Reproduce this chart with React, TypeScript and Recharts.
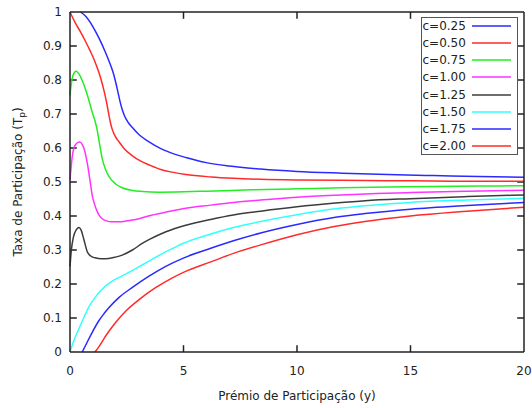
import { LineChart, Line, XAxis, YAxis, Legend, ReferenceLine } from 'recharts';

const FONT = '"DejaVu Sans", Verdana, sans-serif';
const INK = '#222';
const FRAME = '#222';

const X_TICKS = [0, 5, 10, 15, 20];
const Y_TICKS = [0, 0.1, 0.2, 0.3, 0.4, 0.5, 0.6, 0.7, 0.8, 0.9, 1];
const X_MAX = 20;
const Y_MAX = 1;
// inward tick length, in axis units (about 7px each way)
const TICK_DX = 0.3;
const TICK_DY = 0.02;

// [premio y, taxa Tp], one list per curve
const C025 = [
  [0.46, 1.0], [0.7, 0.987], [1.0, 0.958], [1.3, 0.92], [1.55, 0.883], [1.75, 0.85],
  [1.9, 0.822], [2.0, 0.797], [2.1, 0.768], [2.2, 0.738], [2.3, 0.713], [2.4, 0.695],
  [2.5, 0.682], [2.62, 0.67], [2.75, 0.66], [3.0, 0.642], [3.5, 0.617], [4.0, 0.598],
  [4.6, 0.582], [5.1, 0.572], [6.0, 0.557], [7.0, 0.547], [8.4, 0.538], [10, 0.531],
  [12, 0.526], [14, 0.522], [16, 0.519], [18, 0.516], [20, 0.514],
];
const C050 = [
  [0, 1.0], [0.24, 0.967], [0.45, 0.943], [0.68, 0.914], [0.9, 0.884], [1.05, 0.862],
  [1.2, 0.836], [1.35, 0.806], [1.5, 0.768], [1.6, 0.738], [1.69, 0.706], [1.79, 0.672],
  [1.85, 0.657], [1.95, 0.64], [2.05, 0.628], [2.15, 0.619], [2.4, 0.597], [2.75, 0.577],
  [3.1, 0.562], [3.5, 0.55], [4.0, 0.537], [4.5, 0.529], [5.1, 0.522], [6.2, 0.515],
  [7.2, 0.511], [8.4, 0.508], [10, 0.506], [12, 0.505], [14, 0.504], [16, 0.503],
  [18, 0.502], [20, 0.502],
];
const C075 = [
  [0, 0.755], [0.06, 0.79], [0.14, 0.815], [0.27, 0.826], [0.42, 0.815], [0.6, 0.788],
  [0.8, 0.748], [0.98, 0.705], [1.1, 0.68], [1.2, 0.652], [1.3, 0.613], [1.42, 0.569],
  [1.57, 0.536], [1.75, 0.513], [2.0, 0.495], [2.3, 0.483], [2.75, 0.475], [3.2, 0.472],
  [3.9, 0.47], [5, 0.471], [6, 0.473], [8, 0.477], [10, 0.48], [12, 0.483],
  [14, 0.485], [16, 0.487], [18, 0.488], [20, 0.489],
];
const C100 = [
  [0, 0.507], [0.1, 0.575], [0.24, 0.61], [0.42, 0.618], [0.61, 0.6], [0.76, 0.556],
  [0.88, 0.505], [0.98, 0.46], [1.08, 0.435], [1.2, 0.413], [1.35, 0.396], [1.55, 0.387],
  [1.8, 0.383], [2.15, 0.383], [2.6, 0.387], [3.04, 0.392], [3.5, 0.401], [4.2, 0.411],
  [5.1, 0.423], [6.2, 0.432], [7.2, 0.44], [8.4, 0.447], [10, 0.455], [11.7, 0.461],
  [13.5, 0.466], [15, 0.469], [17.5, 0.473], [20, 0.476],
];
const C125 = [
  [0, 0.252], [0.06, 0.3], [0.15, 0.338], [0.28, 0.36], [0.4, 0.366], [0.5, 0.357],
  [0.61, 0.331], [0.76, 0.295], [0.9, 0.283], [1.1, 0.277], [1.4, 0.274], [1.71, 0.275],
  [2.0, 0.279], [2.3, 0.285], [2.75, 0.3], [3.2, 0.32], [3.5, 0.331], [4.2, 0.353],
  [5.1, 0.373], [6.2, 0.39], [7.2, 0.403], [8.4, 0.414], [10, 0.427], [11.7, 0.438],
  [13, 0.445], [15, 0.451], [17.5, 0.457], [20, 0.462],
];
const C150 = [
  [0, 0], [0.15, 0.03], [0.35, 0.062], [0.6, 0.1], [0.85, 0.135], [1.1, 0.16],
  [1.35, 0.18], [1.6, 0.196], [1.9, 0.21], [2.3, 0.224], [2.75, 0.24], [3.1, 0.253],
  [3.5, 0.268], [4.0, 0.287], [4.5, 0.304], [5.0, 0.32], [6.2, 0.347], [7.2, 0.366],
  [8.4, 0.384], [10, 0.404], [11.7, 0.421], [13, 0.43], [15, 0.44], [17.5, 0.447],
  [20, 0.452],
];
const C175 = [
  [0.54, 0], [0.75, 0.028], [0.98, 0.058], [1.27, 0.092], [1.5, 0.113], [1.71, 0.13],
  [2.15, 0.16], [2.75, 0.19], [3.48, 0.223], [4.22, 0.252], [5.02, 0.277], [6.2, 0.305],
  [7.2, 0.327], [8.4, 0.35], [10, 0.375], [11.7, 0.396], [13, 0.407], [15, 0.42],
  [17.5, 0.431], [20, 0.44],
];
const C200 = [
  [1.1, 0], [1.3, 0.018], [1.57, 0.047], [2.0, 0.086], [2.45, 0.12], [3.04, 0.154],
  [3.77, 0.189], [4.51, 0.218], [5.02, 0.235], [6.2, 0.265], [7.2, 0.29], [8.4, 0.315],
  [10, 0.345], [11.7, 0.37], [13, 0.384], [15, 0.4], [17.5, 0.414], [20, 0.426],
];

const SERIES = [
  { name: 'c=0.25', color: '#2a2aff', points: C025 },
  { name: 'c=0.50', color: '#ff2a2a', points: C050 },
  { name: 'c=0.75', color: '#22ee22', points: C075 },
  { name: 'c=1.00', color: '#ff33ff', points: C100 },
  { name: 'c=1.25', color: '#3c3c3c', points: C125 },
  { name: 'c=1.50', color: '#33ffff', points: C150 },
  { name: 'c=1.75', color: '#2a2aff', points: C175 },
  { name: 'c=2.00', color: '#ff2a2a', points: C200 },
];

const toPoints = (pairs: number[][]) => pairs.map(([x, y]) => ({ x, y }));

const tickStyle = { fontSize: 12, fill: INK, fontFamily: FONT };
const noLabel = () => '';

// gnuplot-style inward ticks on all four sides, built from the tick lists
const tickSegments = [
  ...X_TICKS.slice(1, -1).flatMap((t) => [
    [{ x: t, y: 0 }, { x: t, y: TICK_DY }],
    [{ x: t, y: Y_MAX }, { x: t, y: Y_MAX - TICK_DY }],
  ]),
  ...Y_TICKS.slice(1, -1).flatMap((t) => [
    [{ x: 0, y: t }, { x: TICK_DX, y: t }],
    [{ x: X_MAX, y: t }, { x: X_MAX - TICK_DX, y: t }],
  ]),
];

function YTitle({ viewBox }: any) {
  const cx = viewBox.x + 21.5;
  const cy = viewBox.y + viewBox.height / 2;
  return (
    <text
      x={cx}
      y={cy}
      transform={`rotate(-90 ${cx} ${cy})`}
      textAnchor="middle"
      fontSize={12}
      fontFamily={FONT}
      fill={INK}
    >
      Taxa de Participação (T<tspan fontSize={9} dy={3}>p</tspan>
      <tspan dy={-3}>)</tspan>
    </text>
  );
}

function XTitle({ viewBox }: any) {
  return (
    <text
      x={viewBox.x + viewBox.width / 2}
      y={viewBox.y + 48}
      textAnchor="middle"
      fontSize={12}
      fontFamily={FONT}
      fill={INK}
    >
      Prémio de Participação (y)
    </text>
  );
}

function LegendBox({ payload }: any) {
  const items = payload && payload.length
    ? payload
        .filter((p: any) => p.value)
        .map((p: any) => ({ name: p.value, color: p.color }))
    : SERIES;
  return (
    <div
      style={{
        boxSizing: 'border-box',
        width: 97,
        height: 138,
        border: '1.5px solid #555',
        background: '#fff',
        fontFamily: FONT,
        fontSize: 12,
        color: INK,
      }}
    >
      {items.map((it: any) => (
        <div key={it.name} style={{ height: 17.13, display: 'flex', alignItems: 'center' }}>
          <span style={{ flex: '0 0 49.5px', paddingLeft: 1, whiteSpace: 'nowrap', lineHeight: '14px' }}>
            {it.name}
          </span>
          <svg width={39} height={4} style={{ display: 'block' }}>
            <line x1={0} y1={2} x2={39} y2={2} stroke={it.color} strokeWidth={1.5} />
          </svg>
        </div>
      ))}
    </div>
  );
}

export default function App() {
  return (
    <div style={{ position: 'absolute', left: 0, top: 0, width: 532, height: 408, background: '#fff' }}>
      <LineChart
        width={532}
        height={408}
        margin={{ top: 0, right: 0, bottom: 0, left: 0 }}
        style={{ fontFamily: FONT }}
      >
        <XAxis
          type="number"
          dataKey="x"
          domain={[0, X_MAX]}
          ticks={X_TICKS}
          height={56}
          stroke={FRAME}
          tickSize={0}
          tickMargin={14.5}
          tick={tickStyle}
          tickLine={false}
          axisLine={{ stroke: FRAME, strokeWidth: 1.5 }}
          label={<XTitle />}
        />
        <XAxis
          xAxisId="top"
          orientation="top"
          type="number"
          dataKey="x"
          domain={[0, X_MAX]}
          ticks={X_TICKS}
          height={12}
          stroke={FRAME}
          tickSize={0}
          tickFormatter={noLabel}
          tickLine={false}
          axisLine={{ stroke: FRAME, strokeWidth: 1.5 }}
        />
        <YAxis
          type="number"
          domain={[0, Y_MAX]}
          ticks={Y_TICKS}
          width={70}
          stroke={FRAME}
          tickSize={0}
          tickMargin={8}
          tick={tickStyle}
          tickLine={false}
          axisLine={{ stroke: FRAME, strokeWidth: 1.5 }}
          label={<YTitle />}
        />
        <YAxis
          yAxisId="right"
          orientation="right"
          type="number"
          domain={[0, Y_MAX]}
          ticks={Y_TICKS}
          width={8}
          stroke={FRAME}
          tickSize={0}
          tickFormatter={noLabel}
          tickLine={false}
          axisLine={{ stroke: FRAME, strokeWidth: 1.5 }}
        />
        {tickSegments.map((seg, i) => (
          <ReferenceLine
            key={`tick-${i}`}
            segment={seg}
            stroke={FRAME}
            strokeWidth={1.5}
            ifOverflow="visible"
          />
        ))}
        <Legend
          layout="vertical"
          align="center"
          verticalAlign="middle"
          wrapperStyle={{ left: 420.5, top: 16.5, width: 97, height: 138, margin: 0, padding: 0 }}
          content={<LegendBox />}
        />
        {SERIES.map((s) => (
          <Line
            key={s.name}
            name={s.name}
            data={toPoints(s.points)}
            dataKey="y"
            type="monotone"
            stroke={s.color}
            strokeWidth={1.5}
            dot={false}
            activeDot={false}
            isAnimationActive={false}
          />
        ))}
      </LineChart>
    </div>
  );
}
